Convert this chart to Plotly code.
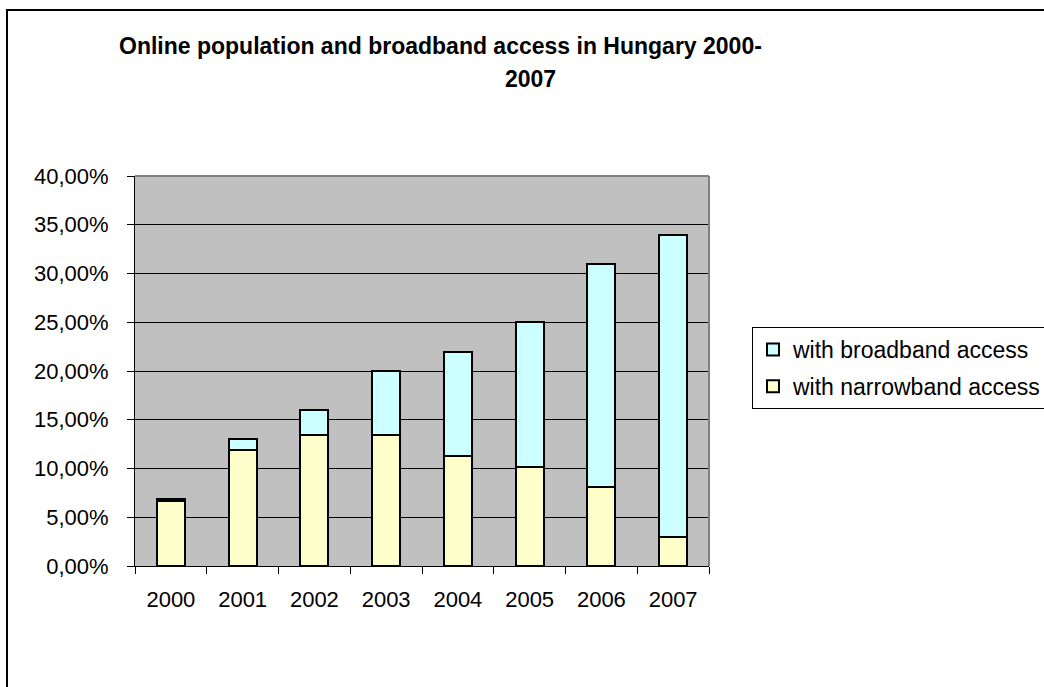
import plotly.graph_objects as go

years = ["2000", "2001", "2002", "2003", "2004", "2005", "2006", "2007"]
narrowband = [0.067, 0.119, 0.134, 0.134, 0.113, 0.102, 0.081, 0.030]
broadband = [0.002, 0.011, 0.026, 0.066, 0.106, 0.148, 0.229, 0.310]

FONT = "Liberation Sans, Arial, sans-serif"
W, H = 1044, 687
L, R, T, B = 135, 335, 176, 121
pw, ph = W - L - R, H - T - B

def px_x(px):
    return (px - L) / pw

def px_y(py):
    return (H - B - py) / ph

fig = go.Figure()
fig.add_trace(go.Bar(x=years, y=narrowband, name="with narrowband access",
                     legendgroup="n", legendrank=2,
                     marker=dict(color="#FFFFCC", line=dict(color="black", width=2))))
fig.add_trace(go.Bar(x=years, y=broadband, name="with broadband access",
                     legendgroup="b", legendrank=1,
                     marker=dict(color="#CCFFFF", line=dict(color="black", width=2))))

fig.update_layout(
    width=W, height=H,
    barmode="stack", bargap=0.61,
    separators=",.",
    paper_bgcolor="white", plot_bgcolor="#C0C0C0",
    margin=dict(l=L, r=R, t=T, b=B, autoexpand=False),
    font=dict(family=FONT, size=22, color="black"),
    showlegend=True,
    legend=dict(x=px_x(752), y=px_y(327), xanchor="left", yanchor="top",
                traceorder="grouped", tracegroupgap=4,
                bordercolor="black", borderwidth=1,
                bgcolor="white", font=dict(size=23, family=FONT)),
    xaxis=dict(type="category", showgrid=False, ticks="outside", ticklen=7,
               tickcolor="black", tickson="boundaries", linecolor="black", linewidth=1,
               showline=True, ticklabelstandoff=14),
    yaxis=dict(range=[0, 0.4], dtick=0.05, tickformat=".2%", showgrid=True,
               gridcolor="black", gridwidth=1, ticks="outside", ticklen=7,
               tickcolor="black", showline=True, linecolor="black", linewidth=1,
               zeroline=False, ticklabelstandoff=14),
)

# outer chart border
fig.add_shape(type="rect", xref="paper", yref="paper",
              x0=px_x(7), x1=px_x(1060), y0=px_y(700), y1=px_y(10),
              line=dict(color="black", width=2), fillcolor="rgba(0,0,0,0)", layer="below")
# plot-area frame (top and right)
fig.add_shape(type="line", xref="paper", yref="paper", x0=0, x1=1, y0=1, y1=1,
              line=dict(color="#808080", width=2))
fig.add_shape(type="line", xref="paper", yref="paper", x0=1, x1=1, y0=0, y1=1,
              line=dict(color="#808080", width=2))

fig.add_annotation(text="<b>Online population and broadband access in Hungary 2000-</b>",
                   xref="paper", yref="paper", x=px_x(440), y=px_y(46),
                   xanchor="center", yanchor="middle", showarrow=False,
                   font=dict(size=23, family=FONT))
fig.add_annotation(text="<b>2007</b>",
                   xref="paper", yref="paper", x=px_x(530), y=px_y(79),
                   xanchor="center", yanchor="middle", showarrow=False,
                   font=dict(size=23, family=FONT))

fig.write_html("out.html")
